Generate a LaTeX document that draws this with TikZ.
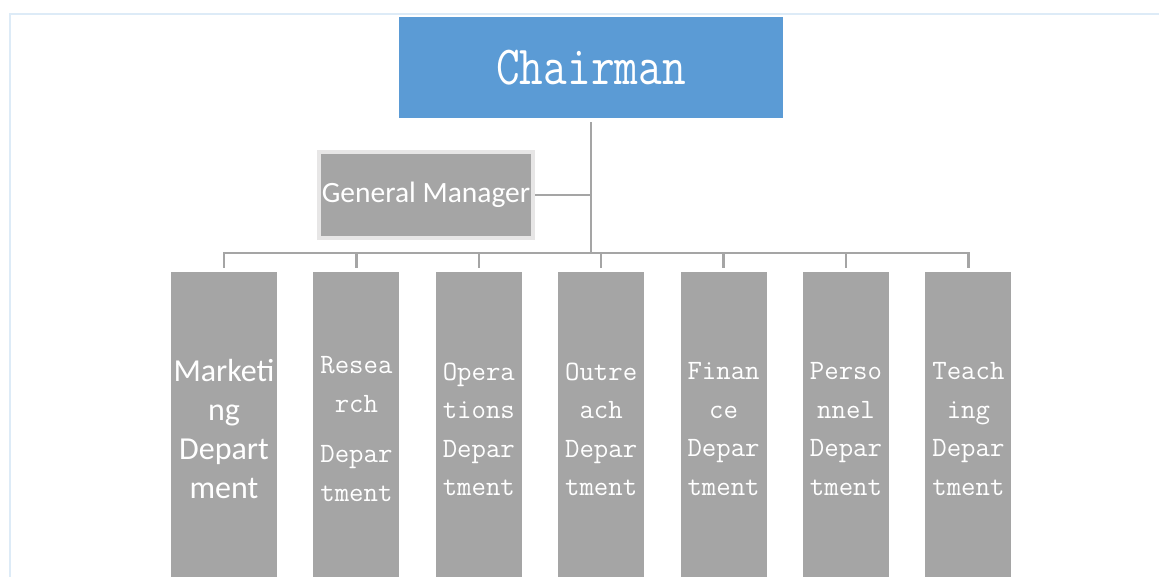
\documentclass[tikz,border=0pt]{standalone}
\usepackage{fontspec}
\newfontfamily\calibri{Carlito}
\usepackage{tikz}
\usetikzlibrary{positioning}
\definecolor{chairblue}{HTML}{5B9BD5}
\definecolor{boxgray}{HTML}{A5A5A5}
\definecolor{rimgray}{HTML}{E7E6E6}
\definecolor{framecolor}{HTML}{DDEBF7}

\begin{document}
\begin{tikzpicture}[
        x=1pt, y=-1pt,
        node distance=36pt,
        link/.style={draw=boxgray, line width=2.5pt},
        dept/.style={rectangle, fill=boxgray, inner sep=0pt, minimum width=86pt,
                     minimum height=314pt, text=white, align=center,
                     font=\ttfamily\fontsize{28}{38.5}\selectfont}
    ]
    \useasboundingbox (0,0) rectangle (1159,577);
    \draw[framecolor, line width=1.5pt] (10,600) -- (10,14) -- (1180,14);

    \node[rectangle, fill=chairblue, minimum width=384pt, minimum height=101pt,
          text=white, font=\ttfamily\fontsize{46}{50}\selectfont]
        (chair) at (591,67.5) {\scalebox{1}[1.2]{Chairman}};
    \node[rectangle, fill=boxgray, draw=rimgray, line width=4pt, inner sep=0pt,
          minimum width=214pt, minimum height=86pt, text=white,
          font=\calibri\fontsize{29.5}{35}\selectfont]
        (gm) at (426,195) {General Manager};

    \node[dept, minimum width=106pt, anchor=north,
          font=\calibri\fontsize{32}{39}\selectfont]
        (mkt) at (224,272) {Marketi\\ng\\Depart\\ment};
    \node[dept, right=of mkt] (res) {Resea\\rch\\[12pt]Depar\\tment};
    \node[dept, right=of res] (ops) {Opera\\tions\\Depar\\tment};
    \node[dept, right=of ops] (out) {Outre\\ach\\Depar\\tment};
    \node[dept, right=of out] (fin) {Finan\\ce\\Depar\\tment};
    \node[dept, right=of fin] (pers) {Perso\\nnel\\Depar\\tment};
    \node[dept, right=of pers] (teach) {Teach\\ing\\Depar\\tment};

    % connectors
    \coordinate (bus) at (591,253);
    \draw[link] ([yshift=-4pt]chair.south) -- (bus);
    \draw[link] (gm.east) -- (gm.east -| bus);
    \draw[link] ([yshift=4pt]mkt.north) -- (mkt.north |- bus)
        -- (teach.north |- bus) -- ([yshift=4pt]teach.north);
    \foreach \d in {res, ops, out, fin, pers}
        \draw[link] (\d.north |- bus) -- ([yshift=4pt]\d.north);
\end{tikzpicture}
\end{document}
